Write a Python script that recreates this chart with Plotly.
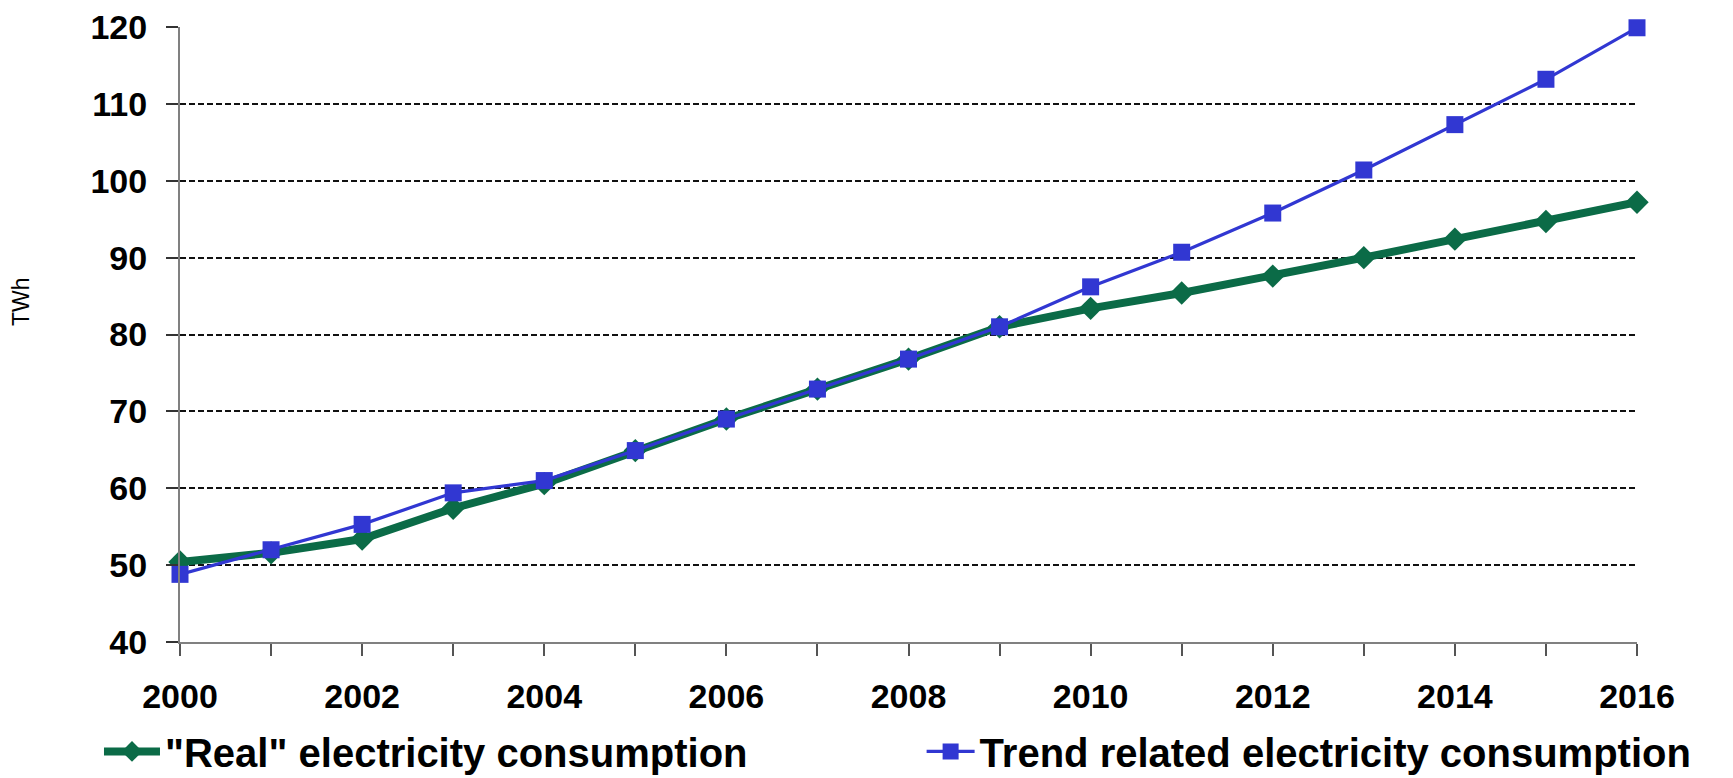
import plotly.graph_objects as go

# Electricity consumption, TWh
years = list(range(2000, 2017))
real_consumption = [50.4, 51.6, 53.4, 57.4, 60.6, 64.9, 69.0, 72.9, 76.8, 81.0,
                    83.4, 85.4, 87.6, 90.0, 92.4, 94.7, 97.2]
trend_consumption = [48.8, 52.0, 55.3, 59.4, 61.0, 64.9, 69.0, 72.9, 76.8, 81.0,
                     86.2, 90.7, 95.8, 101.4, 107.3, 113.2, 119.9]
x_tick_years = list(range(2000, 2017, 2))
y_ticks = list(range(40, 121, 10))

GREEN = "#0B6B47"
BLUE = "#3137D2"
FONT = "Liberation Sans, Arial, sans-serif"
LEGEND_FONT = dict(size=40, weight="bold", family=FONT, color="black")

fig = go.Figure()
fig.add_trace(go.Scatter(
    x=years, y=real_consumption, name='"Real" electricity consumption',
    mode="lines+markers", cliponaxis=False, legend="legend",
    line=dict(color=GREEN, width=8),
    marker=dict(symbol="diamond", size=18, color=GREEN),
))
fig.add_trace(go.Scatter(
    x=years, y=trend_consumption, name="Trend related electricity consumption",
    mode="lines+markers", cliponaxis=False, legend="legend2",
    line=dict(color=BLUE, width=3.2),
    marker=dict(symbol="square", size=17, color=BLUE),
))

fig.update_layout(
    width=1733, height=778,
    margin=dict(l=180, r=96, t=27, b=136, autoexpand=False),
    paper_bgcolor="white", plot_bgcolor="white",
    font=dict(family=FONT, color="black"),
    showlegend=True,
    legend=dict(
        orientation="h", x=-0.0556, y=-0.178, xanchor="left", yanchor="middle",
        font=LEGEND_FONT, itemwidth=56, bgcolor="rgba(0,0,0,0)",
    ),
    legend2=dict(
        orientation="h", x=0.509, y=-0.178, xanchor="left", yanchor="middle",
        font=LEGEND_FONT, itemwidth=48, bgcolor="rgba(0,0,0,0)",
    ),
    xaxis=dict(
        range=[2000, 2016], tickvals=x_tick_years,
        ticks="outside", ticklen=12, tickwidth=2, tickcolor="#555555",
        minor=dict(dtick=1, tick0=2000, ticks="outside", ticklen=12,
                   tickwidth=2, tickcolor="#555555"),
        showline=True, linecolor="#808080", linewidth=2,
        showgrid=False, zeroline=False,
        tickfont=dict(size=34, weight="bold", family=FONT, color="black"),
        ticklabelstandoff=11,
    ),
    yaxis=dict(
        range=[40, 120], tickvals=y_ticks,
        ticks="outside", ticklen=12, tickwidth=2, tickcolor="#333333",
        showline=True, linecolor="#808080", linewidth=2,
        showgrid=True, gridcolor="#111111", gridwidth=2, griddash="6px,3px",
        zeroline=False,
        tickfont=dict(size=34, weight="bold", family=FONT, color="black"),
        ticklabelstandoff=12,
    ),
    annotations=[dict(
        text="TWh", textangle=-90, xref="paper", yref="paper",
        x=(21 - 180) / 1457, y=(642 - 302) / 615, xanchor="center", yanchor="middle",
        showarrow=False, font=dict(size=23, family=FONT, color="black"),
    )],
)

fig.write_html("out.html")
